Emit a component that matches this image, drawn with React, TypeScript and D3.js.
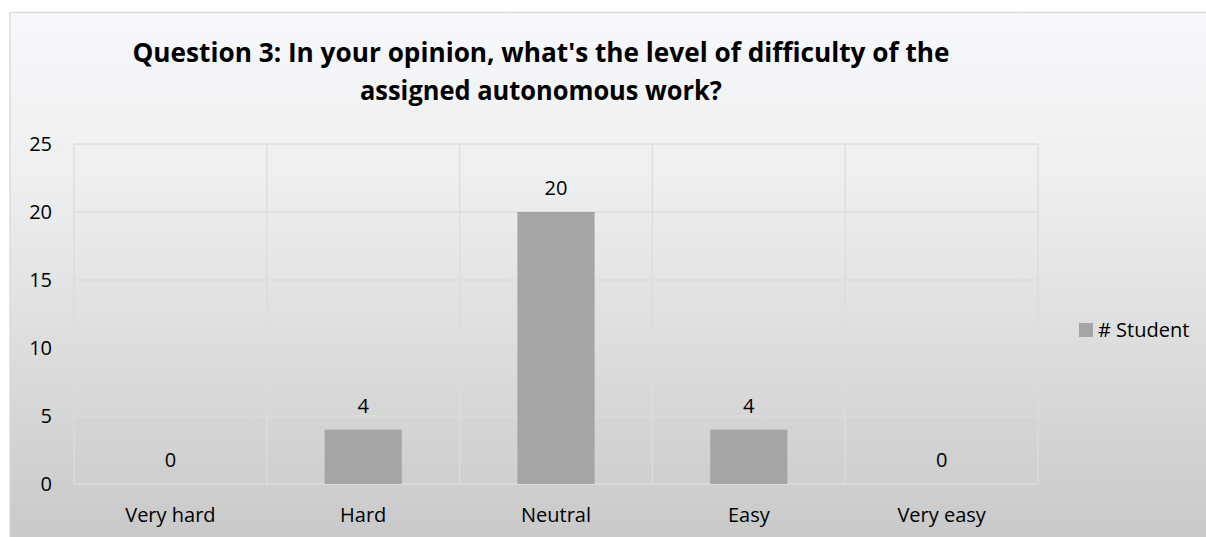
import React from "react";
import * as d3 from "d3";

const categories = ["Very hard", "Hard", "Neutral", "Easy", "Very easy"];
const students = [0, 4, 20, 4, 0];
const yTicks = [0, 5, 10, 15, 20, 25];
const seriesName = "# Student";
const titleLines = [
  "Question 3: In your opinion, what's the level of difficulty of the",
  "assigned autonomous work?",
];

const W = 1206;
const H = 537;
const plot = { left: 74, right: 1038, top: 144, bottom: 484 };
const FONT = "'Open Sans', 'Noto Sans', sans-serif";
const FS = 20;

export default function App() {
  const x = d3.scaleBand<string>().domain(categories).range([plot.left, plot.right]).paddingInner(0).paddingOuter(0);
  const y = d3.scaleLinear().domain([0, 25]).range([plot.bottom, plot.top]);
  const barW = x.bandwidth() * 0.4;

  return (
    <svg width={W} height={H} style={{ position: "absolute", left: 0, top: 0 }} xmlns="http://www.w3.org/2000/svg">
      <defs>
        <linearGradient id="bg" x1="0" y1="0" x2="0" y2="1">
          <stop offset="0" stopColor="#f6f8fb" />
          <stop offset="0.3" stopColor="#eeeff0" />
          <stop offset="1" stopColor="#c8c8c8" />
        </linearGradient>
      </defs>
      <rect x={0} y={0} width={W} height={H} fill="#ffffff" />
      <rect x={10} y={12.5} width={W + 10} height={H} fill="url(#bg)" stroke="#d9d9d9" strokeWidth={1.3} />

      {titleLines.map((t, i) => (
        <text key={i} x={541} y={62 + i * 38} textAnchor="middle" fontFamily={FONT} fontWeight={700}
          fontSize={26} fill="#000" textLength={i === 0 ? 817 : 362} lengthAdjust="spacingAndGlyphs">{t}</text>
      ))}

      {yTicks.map((t) => (
        <line key={"h" + t} x1={plot.left} x2={plot.right} y1={y(t)} y2={y(t)} stroke="#dcdcdc" strokeWidth={1.3} />
      ))}
      {[...categories.map((c) => x(c)!), plot.right].map((v, i) => (
        <line key={"v" + i} x1={v} x2={v} y1={plot.top} y2={plot.bottom} stroke="#dcdcdc" strokeWidth={1.3} />
      ))}

      {yTicks.map((t) => (
        <text key={"yt" + t} x={52} y={y(t)} dy="0.35em" textAnchor="end" fontFamily={FONT} fontSize={FS} fill="#000">{t}</text>
      ))}

      {categories.map((c, i) => {
        const cx = x(c)! + x.bandwidth() / 2;
        return (
          <g key={c}>
            {students[i] > 0 && (
              <rect x={cx - barW / 2} y={y(students[i])} width={barW} height={y(0) - y(students[i])} fill="#a5a5a5" />
            )}
            <text x={cx} y={y(students[i]) - 24} dy="0.35em" textAnchor="middle" fontFamily={FONT} fontSize={FS} fill="#000">{students[i]}</text>
            <text x={cx} y={515} dy="0.35em" textAnchor="middle" fontFamily={FONT} fontSize={FS} fill="#000">{c}</text>
          </g>
        );
      })}

      <rect x={1079} y={323} width={14} height={14} fill="#a5a5a5" />
      <text x={1098} y={330} dy="0.35em" fontFamily={FONT} fontSize={FS} fill="#000">{seriesName}</text>
    </svg>
  );
}
